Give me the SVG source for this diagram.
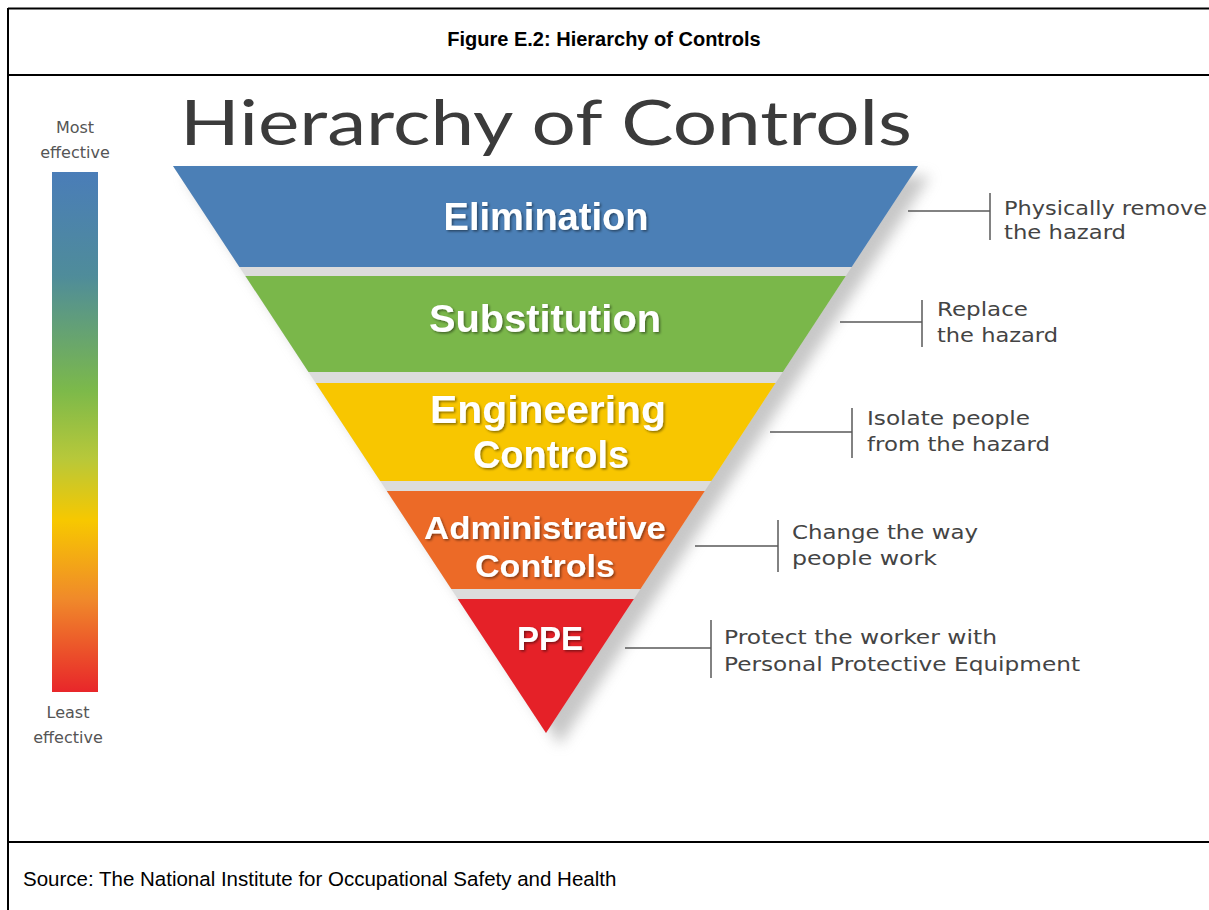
<svg xmlns="http://www.w3.org/2000/svg" width="1209" height="910" viewBox="0 0 1209 910">
<defs>
<linearGradient id="bar" x1="0" y1="0" x2="0" y2="1">
<stop offset="0" stop-color="#4a7db8"/>
<stop offset="0.2" stop-color="#4f8c9a"/>
<stop offset="0.42" stop-color="#7cb94a"/>
<stop offset="0.55" stop-color="#b7c83a"/>
<stop offset="0.67" stop-color="#f7c800"/>
<stop offset="0.82" stop-color="#f08a2a"/>
<stop offset="1" stop-color="#e8262a"/>
</linearGradient>
<filter id="blur" x="-20%" y="-20%" width="140%" height="140%">
<feGaussianBlur stdDeviation="7"/>
</filter>
<filter id="tshadow" x="-10%" y="-20%" width="120%" height="140%">
<feDropShadow dx="1.5" dy="1.5" stdDeviation="1" flood-color="#000" flood-opacity="0.45"/>
</filter>
<style>
.frame{stroke:#000;stroke-width:2;fill:none}
.hdr{font-family:"Liberation Sans",Arial,sans-serif;font-weight:bold;font-size:20px;fill:#000}
.src{font-family:"Liberation Sans",Arial,sans-serif;font-size:20.5px;fill:#000}
.big{font-family:Lato,"Open Sans",sans-serif;font-size:62px;fill:#3b3b3b}
.eff{font-family:"DejaVu Sans",sans-serif;font-size:16px;fill:#555;text-anchor:middle}
.lbl{font-family:"Liberation Sans",Arial,sans-serif;font-weight:bold;fill:#fff;text-anchor:middle;filter:url(#tshadow)}
.desc{font-family:"DejaVu Sans",sans-serif;font-size:20px;fill:#444}
.conn{stroke:#5a5a5a;stroke-width:1.5;fill:none}
</style>
</defs>
<rect width="1209" height="910" fill="#fff"/>
<g id="frame">
<line class="frame" x1="8" y1="8.5" x2="1209" y2="8.5"/>
<line class="frame" x1="8" y1="75" x2="1209" y2="75"/>
<line class="frame" x1="8" y1="842" x2="1209" y2="842"/>
<line class="frame" x1="8" y1="8" x2="8" y2="910"/>
</g>
<text class="hdr" x="604" y="46" text-anchor="middle">Figure E.2: Hierarchy of Controls</text>
<text class="src" x="23" y="886">Source: The National Institute for Occupational Safety and Health</text>
<text class="big" x="180" y="145" textLength="732" lengthAdjust="spacingAndGlyphs">Hierarchy of Controls</text>
<g id="scale">
<text class="eff" x="75" y="133">Most</text>
<text class="eff" x="75" y="158">effective</text>
<rect x="52" y="172" width="46" height="520" fill="url(#bar)"/>
<text class="eff" x="68" y="718">Least</text>
<text class="eff" x="68" y="743">effective</text>
</g>
<polygon points="185,176 930,176 560,745" fill="#9a9a9a" opacity="0.55" filter="url(#blur)"/>
<polygon points="173,166 918,166 546,733" fill="#dcdcdc"/>
<g id="elimination">
<polygon points="173,166 918,166 851.7,267 239.4,267" fill="#4b7fb6"/>
<text class="lbl" x="546" y="230" font-size="38">Elimination</text>
</g>
<g id="substitution">
<polygon points="245.4,276 845.8,276 782.9,372 308.5,372" fill="#7ab74a"/>
<text class="lbl" x="545" y="332" font-size="38" textLength="232" lengthAdjust="spacingAndGlyphs">Substitution</text>
</g>
<g id="engineering">
<polygon points="315.7,383 775.6,383 711.4,481 380.2,481" fill="#f8c600"/>
<text class="lbl" x="548" y="423" font-size="38" textLength="236" lengthAdjust="spacingAndGlyphs">Engineering</text>
<text class="lbl" x="551" y="468" font-size="38">Controls</text>
</g>
<g id="administrative">
<polygon points="386.8,491 704.8,491 640.5,589 451.3,589" fill="#ec6a27"/>
<text class="lbl" x="545" y="539" font-size="31" textLength="242" lengthAdjust="spacingAndGlyphs">Administrative</text>
<text class="lbl" x="545" y="577" font-size="31" textLength="140" lengthAdjust="spacingAndGlyphs">Controls</text>
</g>
<g id="ppe">
<polygon points="457.8,599 633.9,599 546,733" fill="#e52128"/>
<text class="lbl" x="550" y="650" font-size="33">PPE</text>
</g>
<g id="connectors">
<path class="conn" d="M908,211 H990 M990,193 V240"/>
<path class="conn" d="M840,322 H922 M922,300 V347"/>
<path class="conn" d="M770,432 H852 M852,408 V458"/>
<path class="conn" d="M695,546 H778 M778,520 V572"/>
<path class="conn" d="M625,648 H711 M711,620 V678"/>
</g>
<g id="descriptions">
<text class="desc" x="1004" y="215" textLength="203" lengthAdjust="spacingAndGlyphs">Physically remove</text>
<text class="desc" x="1004" y="239" textLength="122" lengthAdjust="spacingAndGlyphs">the hazard</text>
<text class="desc" x="937" y="316" textLength="91" lengthAdjust="spacingAndGlyphs">Replace</text>
<text class="desc" x="937" y="342" textLength="121" lengthAdjust="spacingAndGlyphs">the hazard</text>
<text class="desc" x="867" y="425" textLength="163" lengthAdjust="spacingAndGlyphs">Isolate people</text>
<text class="desc" x="867" y="451" textLength="183" lengthAdjust="spacingAndGlyphs">from the hazard</text>
<text class="desc" x="792" y="539" textLength="186" lengthAdjust="spacingAndGlyphs">Change the way</text>
<text class="desc" x="792" y="565" textLength="145" lengthAdjust="spacingAndGlyphs">people work</text>
<text class="desc" x="724" y="644" textLength="273" lengthAdjust="spacingAndGlyphs">Protect the worker with</text>
<text class="desc" x="724" y="671" textLength="356" lengthAdjust="spacingAndGlyphs">Personal Protective Equipment</text>
</g>
</svg>
